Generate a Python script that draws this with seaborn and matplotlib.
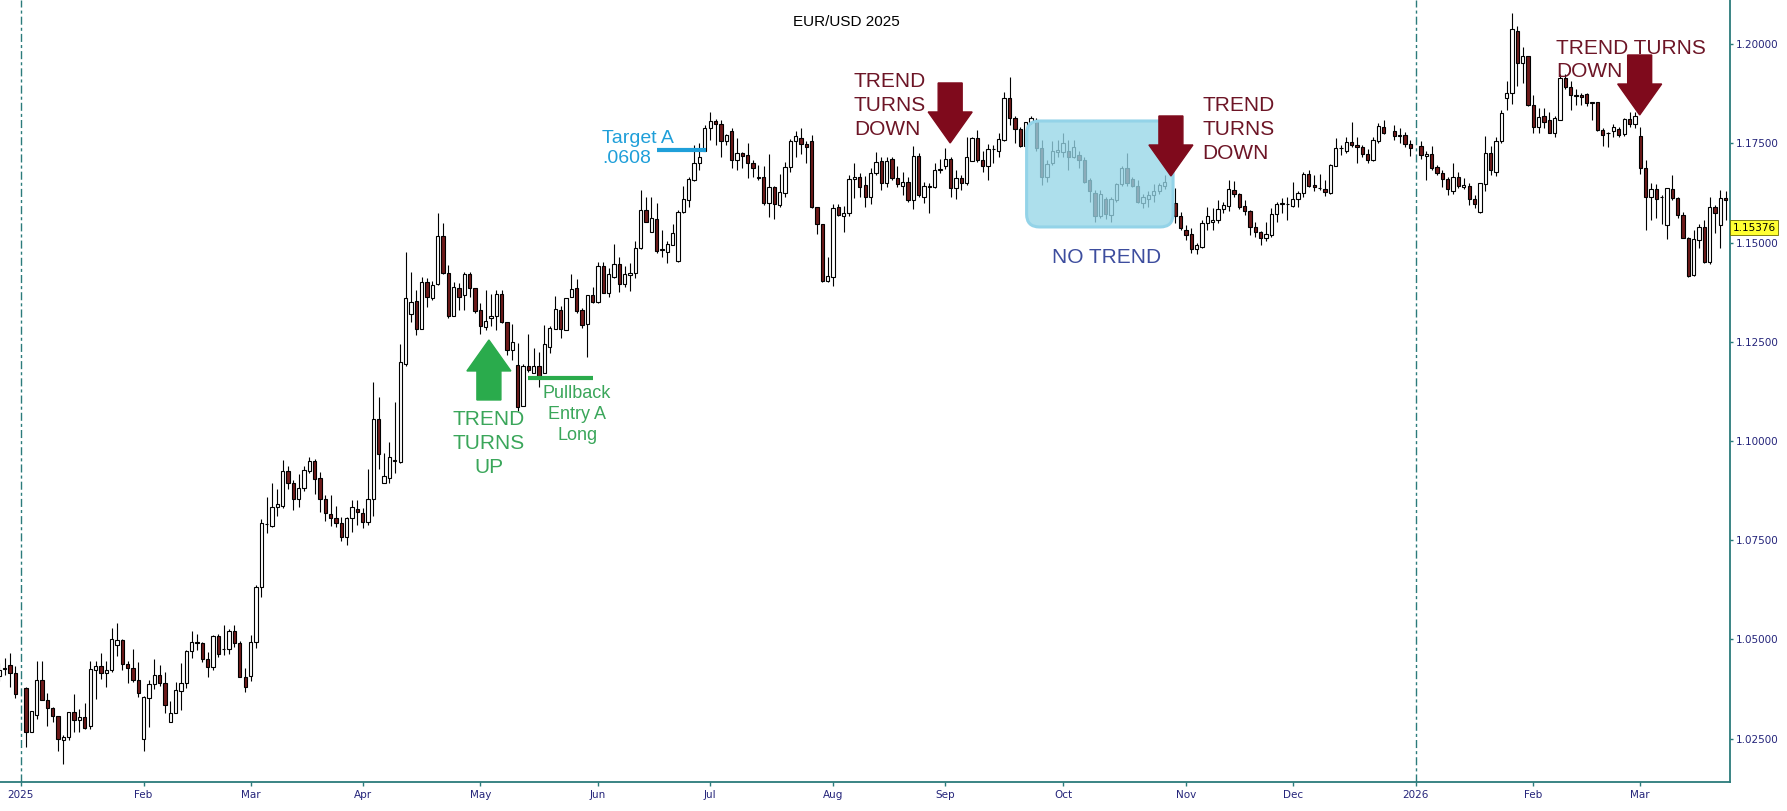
import numpy as np
import pandas as pd
import matplotlib
matplotlib.use("Agg")
import matplotlib.pyplot as plt
import seaborn as sns
from matplotlib.patches import Polygon, FancyBboxPatch
from matplotlib.transforms import ScaledTranslation

sns.set_theme(style="white")
plt.rcParams["font.family"] = ["DejaVu Sans"]

NA = np.nan

# daily EUR/USD candles, one row per weekday from 26 Dec 2024
open_px = [
    1.0407, 1.0426, 1.0436, 1.0415,
    NA, 1.0378, 1.0267, 1.0309, 1.0398, 1.0348, 1.0328, 1.0308, 1.0246, 1.0254, 1.0317, 1.0297, 1.0305, 1.0283, 1.0422, 1.0434, 1.0415, 1.0422, 1.0486, 1.0499, 1.0439, 1.0428, 1.0398,
    1.0249, 1.0352, 1.0387, 1.0410, 1.0390, 1.0293, 1.0314, 1.0369, 1.0390, 1.0471, 1.0493, 1.0492, 1.0452, 1.0430, 1.0509, 1.0476, 1.0475, 1.0521, 1.0490, 1.0405,
    1.0407, 1.0493, 1.0631, 1.0792, 1.0786, 1.0833, 1.0836, 1.0925, 1.0894, 1.0855, 1.0881, 1.0925, 1.0950, 1.0906, 1.0853, 1.0815, 1.0805, 1.0794, 1.0759, 1.0805, 1.0828,
    1.0818, 1.0797, 1.0853, 1.1056, 1.0894, 1.0906, 1.0951, 1.0948, 1.1194, 1.1320, 1.1353, 1.1282, 1.1400, 1.1360, 1.1395, 1.1517, 1.1423, 1.1316, 1.1387, 1.1367, 1.1421, 1.1387,
    1.1330, 1.1288, 1.1309, 1.1316, 1.1371, 1.1300, 1.1229, 1.1192, 1.1089, 1.1189, 1.1172, 1.1190, 1.1172, 1.1238, 1.1282, 1.1331, 1.1280, 1.1364, 1.1385, 1.1331, 1.1295, 1.1368,
    1.1350, 1.1441, 1.1372, 1.1414, 1.1446, 1.1395, 1.1419, 1.1423, 1.1487, 1.1582, 1.1528, 1.1560, 1.1482, 1.1477, 1.1493, 1.1455, 1.1577, 1.1608, 1.1658, 1.1700, 1.1732,
    1.1788, 1.1807, 1.1798, 1.1755, 1.1781, 1.1708, 1.1725, 1.1720, 1.1700, 1.1665, 1.1665, 1.1601, 1.1641, 1.1595, 1.1624, 1.1690, 1.1756, 1.1765, 1.1749, 1.1755, 1.1591, 1.1547, 1.1404,
    1.1414, 1.1591, 1.1568, 1.1576, 1.1660, 1.1665, 1.1645, 1.1616, 1.1675, 1.1706, 1.1650, 1.1711, 1.1662, 1.1644, 1.1652, 1.1608, 1.1719, 1.1616, 1.1643, 1.1641, 1.1682,
    1.1692, 1.1710, 1.1637, 1.1662, 1.1650, 1.1706, 1.1763, 1.1709, 1.1694, 1.1735, 1.1730, 1.1759, 1.1865, 1.1813, 1.1786, 1.1744, 1.1803, 1.1808, 1.1738, 1.1665, 1.1700, 1.1728,
    1.1728, 1.1730, 1.1715, 1.1721, 1.1708, 1.1658, 1.1625, 1.1566, 1.1609, 1.1570, 1.1608, 1.1647, 1.1687, 1.1661, 1.1643, 1.1599, 1.1611, 1.1619, 1.1629, 1.1643, NA, 1.1601, 1.1567,
    1.1532, 1.1522, 1.1484, 1.1490, 1.1549, 1.1553, 1.1556, 1.1584, 1.1593, 1.1633, 1.1622, 1.1593, 1.1581, 1.1539, 1.1528, 1.1511, 1.1519, 1.1572, 1.1598, 1.1598,
    1.1593, 1.1610, 1.1624, 1.1673, 1.1645, 1.1638, 1.1635, 1.1626, 1.1693, 1.1738, 1.1732, 1.1753, 1.1745, 1.1740, 1.1723, 1.1709, 1.1755, 1.1792, NA, 1.1782, 1.1769, 1.1771, 1.1749,
    NA, 1.1744, 1.1719, 1.1724, 1.1690, 1.1675, 1.1661, 1.1630, 1.1666, 1.1640, 1.1643, 1.1609, 1.1578, 1.1647, 1.1725, 1.1679, 1.1755, 1.1864, 1.1878, 1.2034, 1.1952, 1.1970,
    1.1847, 1.1792, 1.1818, 1.1808, 1.1777, 1.1809, 1.1914, 1.1893, 1.1872, 1.1872, 1.1874, 1.1853, 1.1854, 1.1784, 1.1776, 1.1782, 1.1786, 1.1773, 1.1812, 1.1799,
    1.1769, 1.1687, 1.1616, 1.1635, 1.1616, 1.1545, 1.1635, 1.1612, 1.1570, 1.1513, 1.1419, 1.1507, 1.1540, 1.1452, 1.1591, 1.1545, 1.1612,
]
high_px = [
    1.0440, 1.0453, 1.0466, 1.0434,
    NA, 1.0380, 1.0320, 1.0446, 1.0446, 1.0365, 1.0331, 1.0308, 1.0260, 1.0317, 1.0362, 1.0325, 1.0340, 1.0445, 1.0445, 1.0467, 1.0445, 1.0529, 1.0541, 1.0501, 1.0445, 1.0476, 1.0442,
    1.0358, 1.0398, 1.0450, 1.0436, 1.0419, 1.0344, 1.0392, 1.0440, 1.0473, 1.0521, 1.0514, 1.0494, 1.0468, 1.0511, 1.0513, 1.0536, 1.0526, 1.0536, 1.0497, 1.0429,
    1.0511, 1.0637, 1.0803, 1.0860, 1.0895, 1.0878, 1.0952, 1.0937, 1.0902, 1.0916, 1.0936, 1.0961, 1.0954, 1.0923, 1.0864, 1.0864, 1.0836, 1.0808, 1.0808, 1.0852, 1.0852,
    1.0831, 1.0929, 1.1150, 1.1110, 1.0969, 1.0997, 1.1099, 1.1245, 1.1476, 1.1427, 1.1382, 1.1414, 1.1410, 1.1404, 1.1574, 1.1549, 1.1444, 1.1402, 1.1399, 1.1427, 1.1427, 1.1387,
    1.1347, 1.1382, 1.1370, 1.1382, 1.1381, 1.1300, 1.1295, 1.1246, 1.1195, 1.1270, 1.1234, 1.1224, 1.1293, 1.1290, 1.1366, 1.1340, 1.1360, 1.1421, 1.1409, 1.1335, 1.1368, 1.1389,
    1.1452, 1.1452, 1.1435, 1.1497, 1.1465, 1.1440, 1.1448, 1.1503, 1.1634, 1.1614, 1.1616, 1.1599, 1.1532, 1.1503, 1.1546, 1.1582, 1.1643, 1.1665, 1.1746, 1.1752, 1.1797,
    1.1830, 1.1811, 1.1809, 1.1775, 1.1788, 1.1765, 1.1729, 1.1750, 1.1708, 1.1696, 1.1692, 1.1724, 1.1643, 1.1672, 1.1704, 1.1761, 1.1781, 1.1788, 1.1755, 1.1771, 1.1591, 1.1547, 1.1463,
    1.1597, 1.1597, 1.1593, 1.1671, 1.1700, 1.1675, 1.1668, 1.1689, 1.1729, 1.1715, 1.1717, 1.1715, 1.1692, 1.1679, 1.1665, 1.1744, 1.1725, 1.1654, 1.1651, 1.1700, 1.1712,
    1.1738, 1.1717, 1.1683, 1.1671, 1.1766, 1.1766, 1.1784, 1.1730, 1.1748, 1.1746, 1.1776, 1.1881, 1.1918, 1.1818, 1.1792, 1.1805, 1.1819, 1.1813, 1.1759, 1.1708, 1.1755, 1.1759,
    1.1777, 1.1759, 1.1760, 1.1730, 1.1717, 1.1662, 1.1633, 1.1633, 1.1616, 1.1616, 1.1650, 1.1693, 1.1727, 1.1666, 1.1658, 1.1622, 1.1629, 1.1648, 1.1650, 1.1671, NA, 1.1637, 1.1578,
    1.1545, 1.1536, 1.1500, 1.1557, 1.1591, 1.1587, 1.1608, 1.1603, 1.1658, 1.1656, 1.1624, 1.1608, 1.1582, 1.1551, 1.1530, 1.1551, 1.1587, 1.1603, 1.1612, 1.1614,
    1.1654, 1.1629, 1.1679, 1.1683, 1.1671, 1.1672, 1.1658, 1.1698, 1.1763, 1.1746, 1.1767, 1.1803, 1.1767, 1.1746, 1.1735, 1.1767, 1.1802, 1.1809, NA, 1.1797, 1.1788, 1.1780, 1.1760,
    NA, 1.1755, 1.1732, 1.1744, 1.1696, 1.1683, 1.1666, 1.1700, 1.1679, 1.1662, 1.1650, 1.1620, 1.1651, 1.1768, 1.1744, 1.1767, 1.1834, 1.1908, 1.2080, 1.2046, 1.1994, 1.1970,
    1.1872, 1.1839, 1.1839, 1.1830, 1.1818, 1.1925, 1.1925, 1.1908, 1.1887, 1.1876, 1.1876, 1.1855, 1.1855, 1.1788, 1.1780, 1.1799, 1.1792, 1.1813, 1.1830, 1.1830,
    1.1792, 1.1708, 1.1650, 1.1648, 1.1620, 1.1637, 1.1671, 1.1614, 1.1578, 1.1515, 1.1532, 1.1547, 1.1557, 1.1616, 1.1595, 1.1634, 1.1629,
]
low_px = [
    1.0395, 1.0411, 1.0380, 1.0352,
    NA, 1.0230, 1.0266, 1.0300, 1.0347, 1.0281, 1.0291, 1.0220, 1.0185, 1.0247, 1.0266, 1.0268, 1.0274, 1.0274, 1.0350, 1.0400, 1.0380, 1.0419, 1.0459, 1.0424, 1.0390, 1.0394, 1.0355,
    1.0218, 1.0279, 1.0375, 1.0382, 1.0314, 1.0291, 1.0314, 1.0322, 1.0377, 1.0454, 1.0473, 1.0442, 1.0406, 1.0423, 1.0457, 1.0461, 1.0463, 1.0482, 1.0405, 1.0367,
    1.0396, 1.0478, 1.0608, 1.0769, 1.0784, 1.0810, 1.0832, 1.0879, 1.0826, 1.0835, 1.0873, 1.0919, 1.0866, 1.0820, 1.0799, 1.0786, 1.0784, 1.0749, 1.0738, 1.0772, 1.0789,
    1.0780, 1.0789, 1.0810, 1.0929, 1.0894, 1.0894, 1.0919, 1.0946, 1.1189, 1.1301, 1.1267, 1.1282, 1.1337, 1.1356, 1.1393, 1.1421, 1.1309, 1.1316, 1.1330, 1.1330, 1.1364, 1.1322,
    1.1270, 1.1280, 1.1290, 1.1280, 1.1297, 1.1217, 1.1204, 1.1077, 1.1089, 1.1175, 1.1171, 1.1137, 1.1172, 1.1221, 1.1282, 1.1259, 1.1280, 1.1362, 1.1322, 1.1286, 1.1213, 1.1347,
    1.1347, 1.1372, 1.1362, 1.1410, 1.1375, 1.1388, 1.1377, 1.1410, 1.1484, 1.1553, 1.1526, 1.1475, 1.1465, 1.1448, 1.1493, 1.1452, 1.1574, 1.1591, 1.1656, 1.1682, 1.1730,
    1.1759, 1.1746, 1.1717, 1.1746, 1.1687, 1.1683, 1.1687, 1.1662, 1.1666, 1.1658, 1.1595, 1.1564, 1.1559, 1.1591, 1.1614, 1.1679, 1.1717, 1.1723, 1.1702, 1.1587, 1.1521, 1.1402, 1.1402,
    1.1392, 1.1566, 1.1528, 1.1566, 1.1613, 1.1616, 1.1591, 1.1597, 1.1671, 1.1633, 1.1641, 1.1658, 1.1641, 1.1620, 1.1603, 1.1584, 1.1616, 1.1599, 1.1574, 1.1639, 1.1675,
    1.1685, 1.1616, 1.1609, 1.1633, 1.1645, 1.1706, 1.1704, 1.1679, 1.1658, 1.1702, 1.1717, 1.1757, 1.1797, 1.1750, 1.1742, 1.1742, 1.1799, 1.1730, 1.1645, 1.1654, 1.1696, 1.1715,
    1.1715, 1.1683, 1.1713, 1.1687, 1.1650, 1.1603, 1.1553, 1.1561, 1.1559, 1.1553, 1.1603, 1.1643, 1.1643, 1.1640, 1.1601, 1.1587, 1.1589, 1.1603, 1.1623, 1.1635, NA, 1.1549, 1.1532,
    1.1507, 1.1475, 1.1472, 1.1486, 1.1532, 1.1532, 1.1549, 1.1576, 1.1581, 1.1616, 1.1584, 1.1570, 1.1519, 1.1515, 1.1494, 1.1503, 1.1514, 1.1551, 1.1574, 1.1556,
    1.1591, 1.1591, 1.1616, 1.1641, 1.1629, 1.1633, 1.1618, 1.1623, 1.1693, 1.1721, 1.1727, 1.1740, 1.1702, 1.1717, 1.1702, 1.1707, 1.1752, 1.1773, NA, 1.1759, 1.1750, 1.1742, 1.1719,
    NA, 1.1711, 1.1658, 1.1683, 1.1671, 1.1641, 1.1619, 1.1622, 1.1637, 1.1636, 1.1595, 1.1587, 1.1574, 1.1631, 1.1671, 1.1668, 1.1750, 1.1834, 1.1850, 1.1895, 1.1903, 1.1845,
    1.1777, 1.1777, 1.1788, 1.1777, 1.1766, 1.1808, 1.1887, 1.1834, 1.1847, 1.1847, 1.1845, 1.1809, 1.1782, 1.1744, 1.1742, 1.1766, 1.1766, 1.1769, 1.1792, 1.1788,
    1.1673, 1.1532, 1.1557, 1.1561, 1.1547, 1.1509, 1.1608, 1.1561, 1.1511, 1.1413, 1.1416, 1.1486, 1.1450, 1.1446, 1.1525, 1.1486, 1.1557,
]
close_px = [
    1.0424, 1.0429, 1.0415, 1.0362,
    NA, 1.0268, 1.0319, 1.0398, 1.0347, 1.0327, 1.0306, 1.0249, 1.0255, 1.0317, 1.0297, 1.0305, 1.0276, 1.0426, 1.0434, 1.0415, 1.0424, 1.0501, 1.0498, 1.0438, 1.0427, 1.0397, 1.0364,
    1.0356, 1.0387, 1.0410, 1.0390, 1.0334, 1.0314, 1.0372, 1.0390, 1.0472, 1.0493, 1.0492, 1.0452, 1.0430, 1.0509, 1.0463, 1.0475, 1.0521, 1.0490, 1.0405, 1.0381,
    1.0493, 1.0633, 1.0793, 1.0790, 1.0835, 1.0841, 1.0925, 1.0894, 1.0855, 1.0881, 1.0927, 1.0950, 1.0904, 1.0853, 1.0818, 1.0805, 1.0794, 1.0759, 1.0805, 1.0833, 1.0820,
    1.0797, 1.0853, 1.1056, 1.0967, 1.0912, 1.0959, 1.0952, 1.1200, 1.1360, 1.1351, 1.1282, 1.1400, 1.1364, 1.1393, 1.1517, 1.1423, 1.1316, 1.1389, 1.1364, 1.1421, 1.1387, 1.1328,
    1.1290, 1.1303, 1.1316, 1.1371, 1.1301, 1.1229, 1.1249, 1.1085, 1.1189, 1.1179, 1.1189, 1.1164, 1.1244, 1.1284, 1.1332, 1.1282, 1.1360, 1.1383, 1.1329, 1.1293, 1.1368, 1.1350,
    1.1441, 1.1372, 1.1421, 1.1446, 1.1396, 1.1421, 1.1423, 1.1487, 1.1582, 1.1553, 1.1561, 1.1480, 1.1483, 1.1497, 1.1524, 1.1577, 1.1609, 1.1660, 1.1700, 1.1717, 1.1788,
    1.1807, 1.1798, 1.1757, 1.1771, 1.1708, 1.1725, 1.1719, 1.1700, 1.1689, 1.1664, 1.1601, 1.1641, 1.1597, 1.1627, 1.1690, 1.1757, 1.1769, 1.1749, 1.1740, 1.1589, 1.1546, 1.1404, 1.1416,
    1.1587, 1.1570, 1.1576, 1.1660, 1.1666, 1.1641, 1.1616, 1.1675, 1.1704, 1.1650, 1.1706, 1.1662, 1.1647, 1.1652, 1.1608, 1.1719, 1.1619, 1.1643, 1.1640, 1.1682, 1.1686,
    1.1710, 1.1637, 1.1662, 1.1650, 1.1717, 1.1763, 1.1709, 1.1694, 1.1735, 1.1736, 1.1761, 1.1865, 1.1813, 1.1786, 1.1744, 1.1803, 1.1815, 1.1738, 1.1665, 1.1698, 1.1730, 1.1734,
    1.1751, 1.1715, 1.1742, 1.1708, 1.1654, 1.1629, 1.1566, 1.1623, 1.1572, 1.1609, 1.1647, 1.1687, 1.1650, 1.1643, 1.1603, 1.1614, 1.1620, 1.1629, 1.1645, 1.1654, NA, 1.1567, 1.1536,
    1.1519, 1.1483, 1.1494, 1.1549, 1.1567, 1.1557, 1.1584, 1.1595, 1.1635, 1.1622, 1.1591, 1.1581, 1.1539, 1.1528, 1.1511, 1.1522, 1.1572, 1.1598, 1.1599, 1.1597,
    1.1610, 1.1624, 1.1673, 1.1644, 1.1641, 1.1637, 1.1627, 1.1696, 1.1738, 1.1739, 1.1753, 1.1745, 1.1740, 1.1723, 1.1709, 1.1759, 1.1794, 1.1777, NA, 1.1770, 1.1771, 1.1748, 1.1738,
    NA, 1.1721, 1.1724, 1.1689, 1.1675, 1.1660, 1.1635, 1.1666, 1.1643, 1.1645, 1.1609, 1.1598, 1.1650, 1.1725, 1.1682, 1.1755, 1.1826, 1.1878, 1.2038, 1.1952, 1.1970, 1.1847,
    1.1791, 1.1816, 1.1805, 1.1777, 1.1813, 1.1914, 1.1893, 1.1871, 1.1870, 1.1868, 1.1851, 1.1854, 1.1784, 1.1771, 1.1777, 1.1792, 1.1771, 1.1812, 1.1798, 1.1818,
    1.1687, 1.1616, 1.1635, 1.1609, 1.1615, 1.1637, 1.1612, 1.1570, 1.1513, 1.1416, 1.1509, 1.1540, 1.1452, 1.1591, 1.1574, 1.1612, 1.1608,
]
last_price = 1.15376
y_ticks = [1.025, 1.050, 1.075, 1.100, 1.125, 1.150, 1.175, 1.200]

TEAL = "#2b7b7b"
NAVY = "#24247a"
MAROON = "#6e1a1a"
ARROW_RED = "#7f0a1c"
TEXT_RED = "#6d1526"
GREEN = "#2aab4c"
GREEN_TXT = "#3aa65a"
BLUE = "#1f9fd9"

df = pd.DataFrame({"open": open_px, "high": high_px, "low": low_px, "close": close_px})
df["date"] = pd.bdate_range("2024-12-26", periods=len(df))
df["x"] = np.arange(len(df))

fig = plt.figure(figsize=(17.87, 8.11), dpi=100)
ax = fig.add_axes([0, 29 / 811, 1730 / 1787, 782 / 811])
ax.set_xlim(0.13, 323.8)
ax.set_ylim(1.01408, 1.21116)

# year separators
for d in ["2025-01-01", "2026-01-01"]:
    xv = df.loc[df["date"] == d, "x"].iloc[0]
    ax.axvline(xv, color=TEAL, lw=1.0, linestyle=(0, (5.8, 2.2, 2.2, 2.2)), zorder=1)

# candles
ok = df.dropna()
up = ok[ok["close"] >= ok["open"]]
dn = ok[ok["close"] < ok["open"]]
ax.vlines(ok["x"], ok["low"], ok["high"], color="black", lw=0.8, zorder=2)
ax.bar(up["x"], up["close"] - up["open"], bottom=up["open"], width=0.62,
       color="white", edgecolor="black", linewidth=0.8, zorder=3)
ax.bar(dn["x"], dn["close"] - dn["open"], bottom=dn["open"], width=0.62,
       color=MAROON, edgecolor="black", linewidth=0.8, zorder=3)

# axes styling
sns.despine(ax=ax, left=True, top=True, right=False, bottom=False)
for s in ["bottom", "right"]:
    ax.spines[s].set_color(TEAL)
    ax.spines[s].set_linewidth(1.3)

starts = df[df["date"].dt.month != df["date"].shift(1).dt.month].iloc[1:]
labels = [str(d.year) if d.month == 1 else d.strftime("%b") for d in starts["date"]]
ax.set_xticks(starts["x"])
ax.set_xticklabels(labels)
ax.yaxis.tick_right()
ax.set_yticks(y_ticks)
ax.set_yticklabels([f"{v:.5f}" for v in y_ticks])
ax.tick_params(axis="x", bottom=True, length=3, width=1, color=TEAL, pad=3,
               labelsize=7.5, labelcolor=NAVY)
ax.tick_params(axis="y", right=True, left=False, length=2, width=1, color=TEAL, pad=2,
               labelsize=7.5, labelcolor=NAVY)
ax.grid(False)

ax.text(1.0015, last_price, f"{last_price:.5f}", transform=ax.get_yaxis_transform(),
        ha="left", va="center", fontsize=7.5, color="black", zorder=8, clip_on=False,
        bbox=dict(boxstyle="square,pad=0.22", fc="#ffff33", ec="#6a6a00", lw=0.6))

fig.text(846 / 1787, 1 - 22 / 811, "EUR/USD 2025", ha="center", va="center",
         fontsize=11, family="Liberation Sans", color="black")


# annotations
def block_arrow(x, y, color, down=True):
    hw, hh, sw, sl = 22, 31, 12, 29
    s = 1 if down else -1
    pts = np.array([(0, 0), (-hw, s * hh), (-sw, s * hh), (-sw, s * (hh + sl)),
                    (sw, s * (hh + sl)), (sw, s * hh), (hw, s * hh)]) / 100.0
    trans = fig.dpi_scale_trans + ScaledTranslation(x, y, ax.transData)
    ax.add_patch(Polygon(pts, closed=True, transform=trans, color=color, zorder=6,
                         clip_on=False))


def text_lines(x, y, rows, color, size, ha="left", step=24):
    for k, row in enumerate(rows):
        ax.annotate(row, (x, y), xytext=(0, -k * step), textcoords="offset pixels",
                    ha=ha, va="baseline", color=color, fontsize=size,
                    family="Liberation Sans", zorder=7, annotation_clip=False)


box = FancyBboxPatch((192.2, 1.15396), 219.6 - 192.2, 1.18067 - 1.15396,
                     boxstyle="round,pad=0,rounding_size=2.4", mutation_aspect=0.001347,
                     fc=(150 / 255, 214 / 255, 231 / 255, 0.78), ec="#93d3e8", lw=2.2,
                     zorder=4)
ax.add_patch(box)

block_arrow(177.9, 1.17513, ARROW_RED)
block_arrow(219.2, 1.16681, ARROW_RED)
block_arrow(306.9, 1.18218, ARROW_RED)
block_arrow(91.6, 1.12548, GREEN, down=False)

ax.plot([98.9, 111.1], [1.1159, 1.1159], color=GREEN, lw=3, solid_capstyle="butt", zorder=5)
ax.plot([123.0, 132.2], [1.17336, 1.17336], color=BLUE, lw=3, solid_capstyle="butt", zorder=5)

text_lines(159.9, 1.18916, ["TREND", "TURNS", "DOWN"], TEXT_RED, 15)
text_lines(225.1, 1.18327, ["TREND", "TURNS", "DOWN"], TEXT_RED, 15)
text_lines(291.2, 1.19756, ["TREND TURNS", "DOWN"], TEXT_RED, 15, step=23)
text_lines(91.6, 1.10406, ["TREND", "TURNS", "UP"], GREEN_TXT, 15, ha="center")
text_lines(108.1, 1.11086, ["Pullback", "Entry A", "Long"], GREEN_TXT, 13, ha="center", step=21)
text_lines(112.8, 1.17513, ["Target A", ".0608"], BLUE, 14, step=20)
text_lines(207.2, 1.14481, ["NO TREND"], "#3d4d9e", 15, ha="center")

fig.savefig("out.png", dpi=100, facecolor="white")
